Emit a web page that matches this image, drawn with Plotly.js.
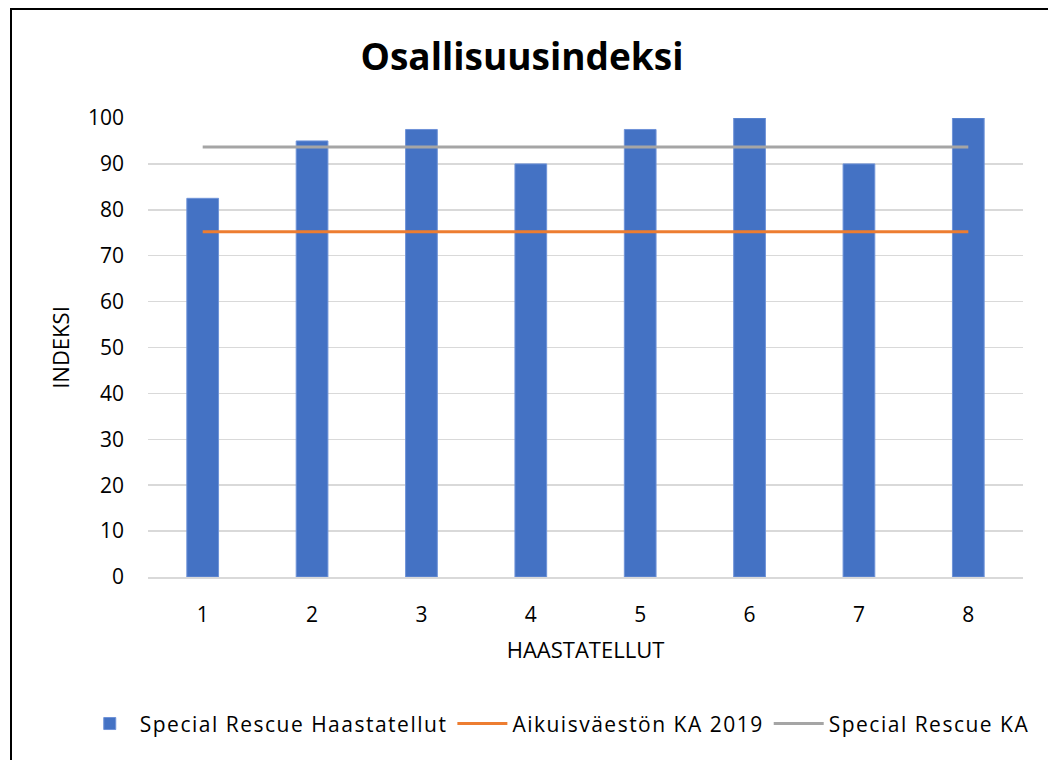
<!DOCTYPE html>
<html>
<head>
<meta charset="utf-8">
<script src="https://cdn.plot.ly/plotly-3.0.1.min.js"></script>
<style>
  html, body { margin: 0; padding: 0; background: #fff; }
  #chart { position: absolute; left: 0; top: 0; width: 1048px; height: 760px; }
  #frame { position: absolute; left: 10px; top: 8px; width: 1100px; height: 800px;
           border-left: 2.5px solid #000; border-top: 2.5px solid #000; pointer-events: none; }
  .legendtext { letter-spacing: 1.5px; }
</style>
</head>
<body>
<div id="chart"></div>
<div id="frame"></div>
<script>
const categories = ['1', '2', '3', '4', '5', '6', '7', '8'];
const haastatellut = [82.5, 95, 97.5, 90, 97.5, 100, 90, 100];
const aikuisvaestoKA = [75.2, 75.2, 75.2, 75.2, 75.2, 75.2, 75.2, 75.2];
const specialRescueKA = [93.7, 93.7, 93.7, 93.7, 93.7, 93.7, 93.7, 93.7];
const yTicks = [0, 10, 20, 30, 40, 50, 60, 70, 80, 90, 100];

const FONT = 'Open Sans, Noto Sans, sans-serif';

const traces = [
  {
    type: 'bar', name: 'Special Rescue Haastatellut',
    x: categories, y: haastatellut,
    marker: { color: '#4472C4', line: { color: '#6f93d8', width: 1 } }
  },
  {
    type: 'scatter', mode: 'lines', name: 'Aikuisväestön KA 2019',
    x: categories, y: aikuisvaestoKA,
    line: { color: '#ED7D31', width: 3 }
  },
  {
    type: 'scatter', mode: 'lines', name: 'Special Rescue KA',
    x: categories, y: specialRescueKA,
    line: { color: '#A5A5A5', width: 3 }
  }
];

const layout = {
  width: 1048, height: 760,
  paper_bgcolor: '#ffffff', plot_bgcolor: '#ffffff',
  margin: { l: 148, r: 25, t: 118, b: 183, autoexpand: false },
  bargap: 0.71,
  font: { family: FONT, size: 21, color: '#000' },
  title: {
    text: '<b>Osallisuusindeksi</b>',
    font: { family: FONT, size: 37, color: '#000' },
    x: 522 / 1048, xanchor: 'center', xref: 'container',
    y: 1 - 57 / 760, yanchor: 'middle', yref: 'container'
  },
  xaxis: {
    type: 'category',
    tickvals: categories, ticktext: categories,
    showgrid: false, showline: true, linecolor: '#d9d9d9', linewidth: 1.5,
    ticks: '', ticklabelstandoff: 18,
    tickfont: { family: FONT, size: 21, color: '#000' },
    title: { text: 'HAASTATELLUT', font: { family: FONT, size: 22, color: '#000' }, standoff: 16 },
    zeroline: false, automargin: false
  },
  yaxis: {
    range: [0, 100],
    tickvals: yTicks, ticktext: yTicks.map(String),
    showgrid: true, gridcolor: '#d9d9d9', gridwidth: 1.5,
    showline: false, zeroline: false, ticks: '',
    ticklabelstandoff: 23,
    tickfont: { family: FONT, size: 21, color: '#000' },
    title: { text: 'INDEKSI', font: { family: FONT, size: 22, color: '#000' }, standoff: 12 },
    automargin: false
  },
  showlegend: true,
  legend: {
    orientation: 'h',
    x: -0.078, xanchor: 'left', y: -0.32, yanchor: 'middle',
    font: { family: FONT, size: 21, color: '#000' },
    traceorder: 'normal', itemwidth: 50
  }
};

Plotly.newPlot('chart', traces, layout, { displayModeBar: false, staticPlot: true });
</script>
</body>
</html>
